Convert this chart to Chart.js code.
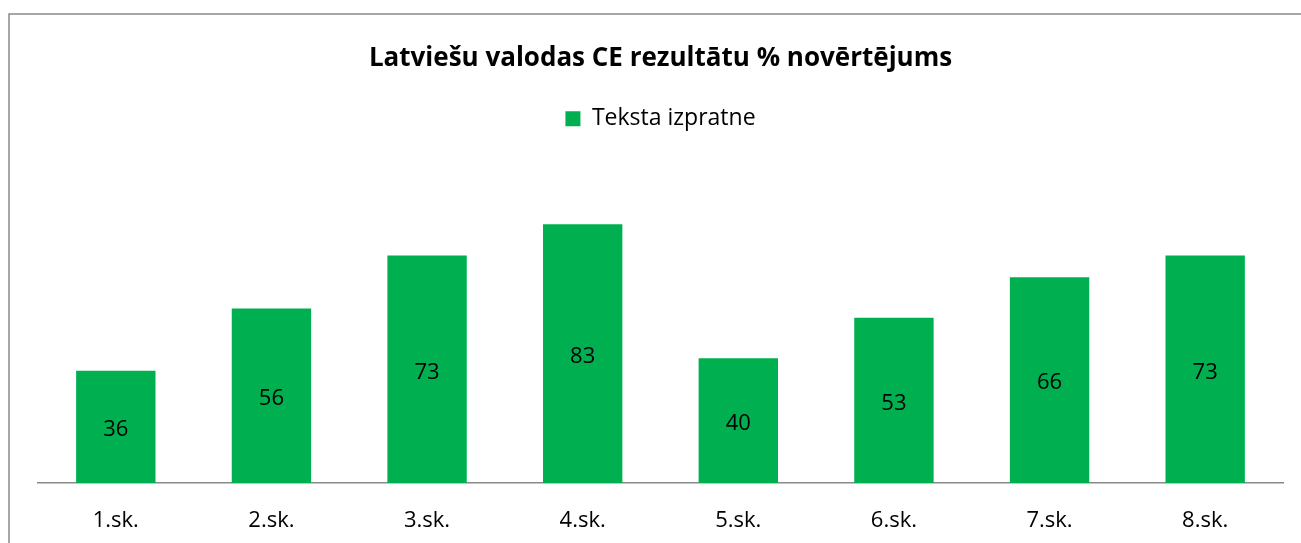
<!DOCTYPE html>
<html>
<head>
<meta charset="utf-8">
<script src="https://cdn.jsdelivr.net/npm/chart.js@4/dist/chart.umd.min.js"></script>
<style>
  html, body { margin: 0; padding: 0; background: #fff; }
  #wrap { width: 1301px; height: 543px; }
</style>
</head>
<body>
<div id="wrap"><canvas id="ceChart" width="1301" height="543"></canvas></div>
<script>
const categories = ['1.sk.', '2.sk.', '3.sk.', '4.sk.', '5.sk.', '6.sk.', '7.sk.', '8.sk.'];
const seriesName = 'Teksta izpratne';
const seriesValues = [36, 56, 73, 83, 40, 53, 66, 73];
const chartTitle = 'Latviešu valodas CE rezultātu % novērtējums';

const FONT = "'Open Sans', 'Noto Sans', sans-serif";

// frame around the chart (only top and left edges are visible)
const framePlugin = {
  id: 'frame',
  beforeDraw(chart) {
    const c = chart.ctx;
    c.save();
    c.fillStyle = '#fff';
    c.fillRect(0, 0, chart.width, chart.height);
    c.strokeStyle = '#898989';
    c.lineWidth = 1.5;
    c.beginPath();
    c.moveTo(9, chart.height + 2);
    c.lineTo(9, 14);
    c.lineTo(chart.width + 2, 14);
    c.stroke();
    c.restore();
  }
};

// value labels centred in each bar
const barLabels = {
  id: 'barLabels',
  afterDatasetsDraw(chart) {
    const c = chart.ctx;
    const meta = chart.getDatasetMeta(0);
    c.save();
    c.font = '22px ' + FONT;
    c.fillStyle = '#000';
    c.textAlign = 'center';
    c.textBaseline = 'middle';
    meta.data.forEach((bar, i) => {
      c.fillText(String(seriesValues[i]), bar.x, (bar.y + bar.base) / 2 + 3);
    });
    c.restore();
  }
};

const ctxBar = document.getElementById('ceChart').getContext('2d');
const barChart = new Chart(ctxBar, {
  type: 'bar',
  data: {
    labels: categories,
    datasets: [{
      label: seriesName,
      data: seriesValues,
      backgroundColor: '#00b050',
      borderWidth: 0,
      categoryPercentage: 1,
      barPercentage: 0.51
    }]
  },
  options: {
    responsive: false,
    animation: false,
    layout: {
      padding: { left: 38, right: 18, top: 43, bottom: 0 }
    },
    plugins: {
      title: {
        display: true,
        text: chartTitle,
        color: '#000',
        font: { family: FONT, size: 26, weight: 'bold' },
        padding: { top: 0, bottom: 23 }
      },
      legend: {
        labels: {
          color: '#000',
          font: { family: FONT, size: 23 },
          boxWidth: 15,
          boxHeight: 15,
          padding: 10
        }
      },
      tooltip: { enabled: false }
    },
    scales: {
      x: {
        grid: { display: false, drawTicks: false },
        border: { color: '#898989', width: 1.5 },
        ticks: {
          color: '#000',
          font: { family: FONT, size: 22 },
          padding: 25
        },
        afterFit(scale) {
          scale.height = 60;
        }
      },
      y: {
        display: false,
        min: 0,
        max: 110
      }
    }
  },
  plugins: [framePlugin, barLabels]
});
</script>
</body>
</html>
